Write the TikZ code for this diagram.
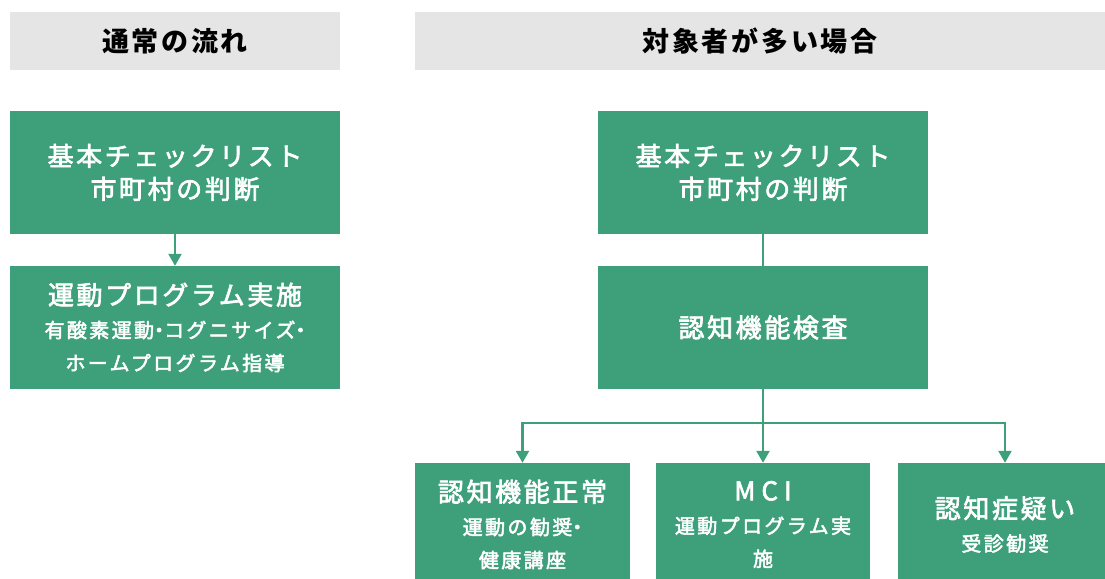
\documentclass[tikz,border=0pt]{standalone}
\usepackage{fontspec}
\setmainfont{Noto Sans CJK JP}[LetterSpace=10]
\newfontfamily\medfont{Noto Sans CJK JP}[FakeBold=2.5, LetterSpace=10]
\newfontfamily\medsubfont{Noto Sans CJK JP}[FakeBold=2.5, LetterSpace=12]
\newfontfamily\dotfont{Noto Sans CJK JP}[RawFeature={+palt}, FakeBold=2.5, LetterSpace=12]
\usetikzlibrary{arrows.meta}
\definecolor{grn}{RGB}{62,159,123}
\definecolor{hdr}{RGB}{229,229,229}
\newcommand\tsz{\medfont\fontsize{26}{33}\selectfont}
\newcommand\ssz{\medsubfont\fontsize{20}{30}\selectfont}
\newcommand\nakaguro{{\dotfont ・}}
\begin{document}
\begin{tikzpicture}[x=1pt,y=-1pt,
  box/.style={fill=grn, text=white, inner sep=0pt, align=center,
    minimum width=330pt, minimum height=123pt, font=\tsz},
  smallbox/.style={box, minimum width=214pt},
  hdrbox/.style={fill=hdr, text=black, inner sep=0pt, minimum height=58pt,
    font=\bfseries\fontsize{27}{30}\selectfont},
  conn/.style={draw=grn, line width=2.4pt},
  arr/.style={conn, -{Triangle[width=13pt,length=12pt]}}
]
\useasboundingbox (0,0) rectangle (1105,578);
\clip (0,0) rectangle (1105,578);

% headers
\node[hdrbox, minimum width=330pt] (h1) at (175,41) {通常の流れ};
\node[hdrbox, minimum width=690pt] (h2) at (760,41) {対象者が多い場合};

% left column
\node[box] (l1) at (175,172.5) {基本チェックリスト\\市町村の判断};
\node[box] (l2) at (175,327.5) {運動プログラム実施\\\ssz 有酸素運動\nakaguro コグニサイズ\nakaguro\\\ssz ホームプログラム指導};

% right column
\node[box] (r1) at (763,172.5) {基本チェックリスト\\市町村の判断};
\node[box] (r2) at (763,327.5) {認知機能検査};

\node[smallbox, minimum width=215pt] (ba) at (522.5,524.5) {認知機能正常\\\ssz 運動の勧奨\nakaguro\\\ssz 健康講座};
\node[smallbox] (bb) at (763,524.5) {M\kern6pt C\kern6pt I\\\ssz 運動プログラム実\\\ssz 施};
\node[smallbox] (bc) at (1005,524.5) {認知症疑い\\\ssz 受診勧奨};

% connectors
\draw[arr] (l1) -- (l2);
\draw[conn] (r1) -- (r2);
\coordinate (hj) at (763,423);
\draw[conn] (r2.south) -- (hj);
\draw[arr] (hj) -- (bb.north);
\draw[arr] (hj) -| (ba.north);
\draw[arr] (hj) -| (bc.north);
\end{tikzpicture}
\end{document}
